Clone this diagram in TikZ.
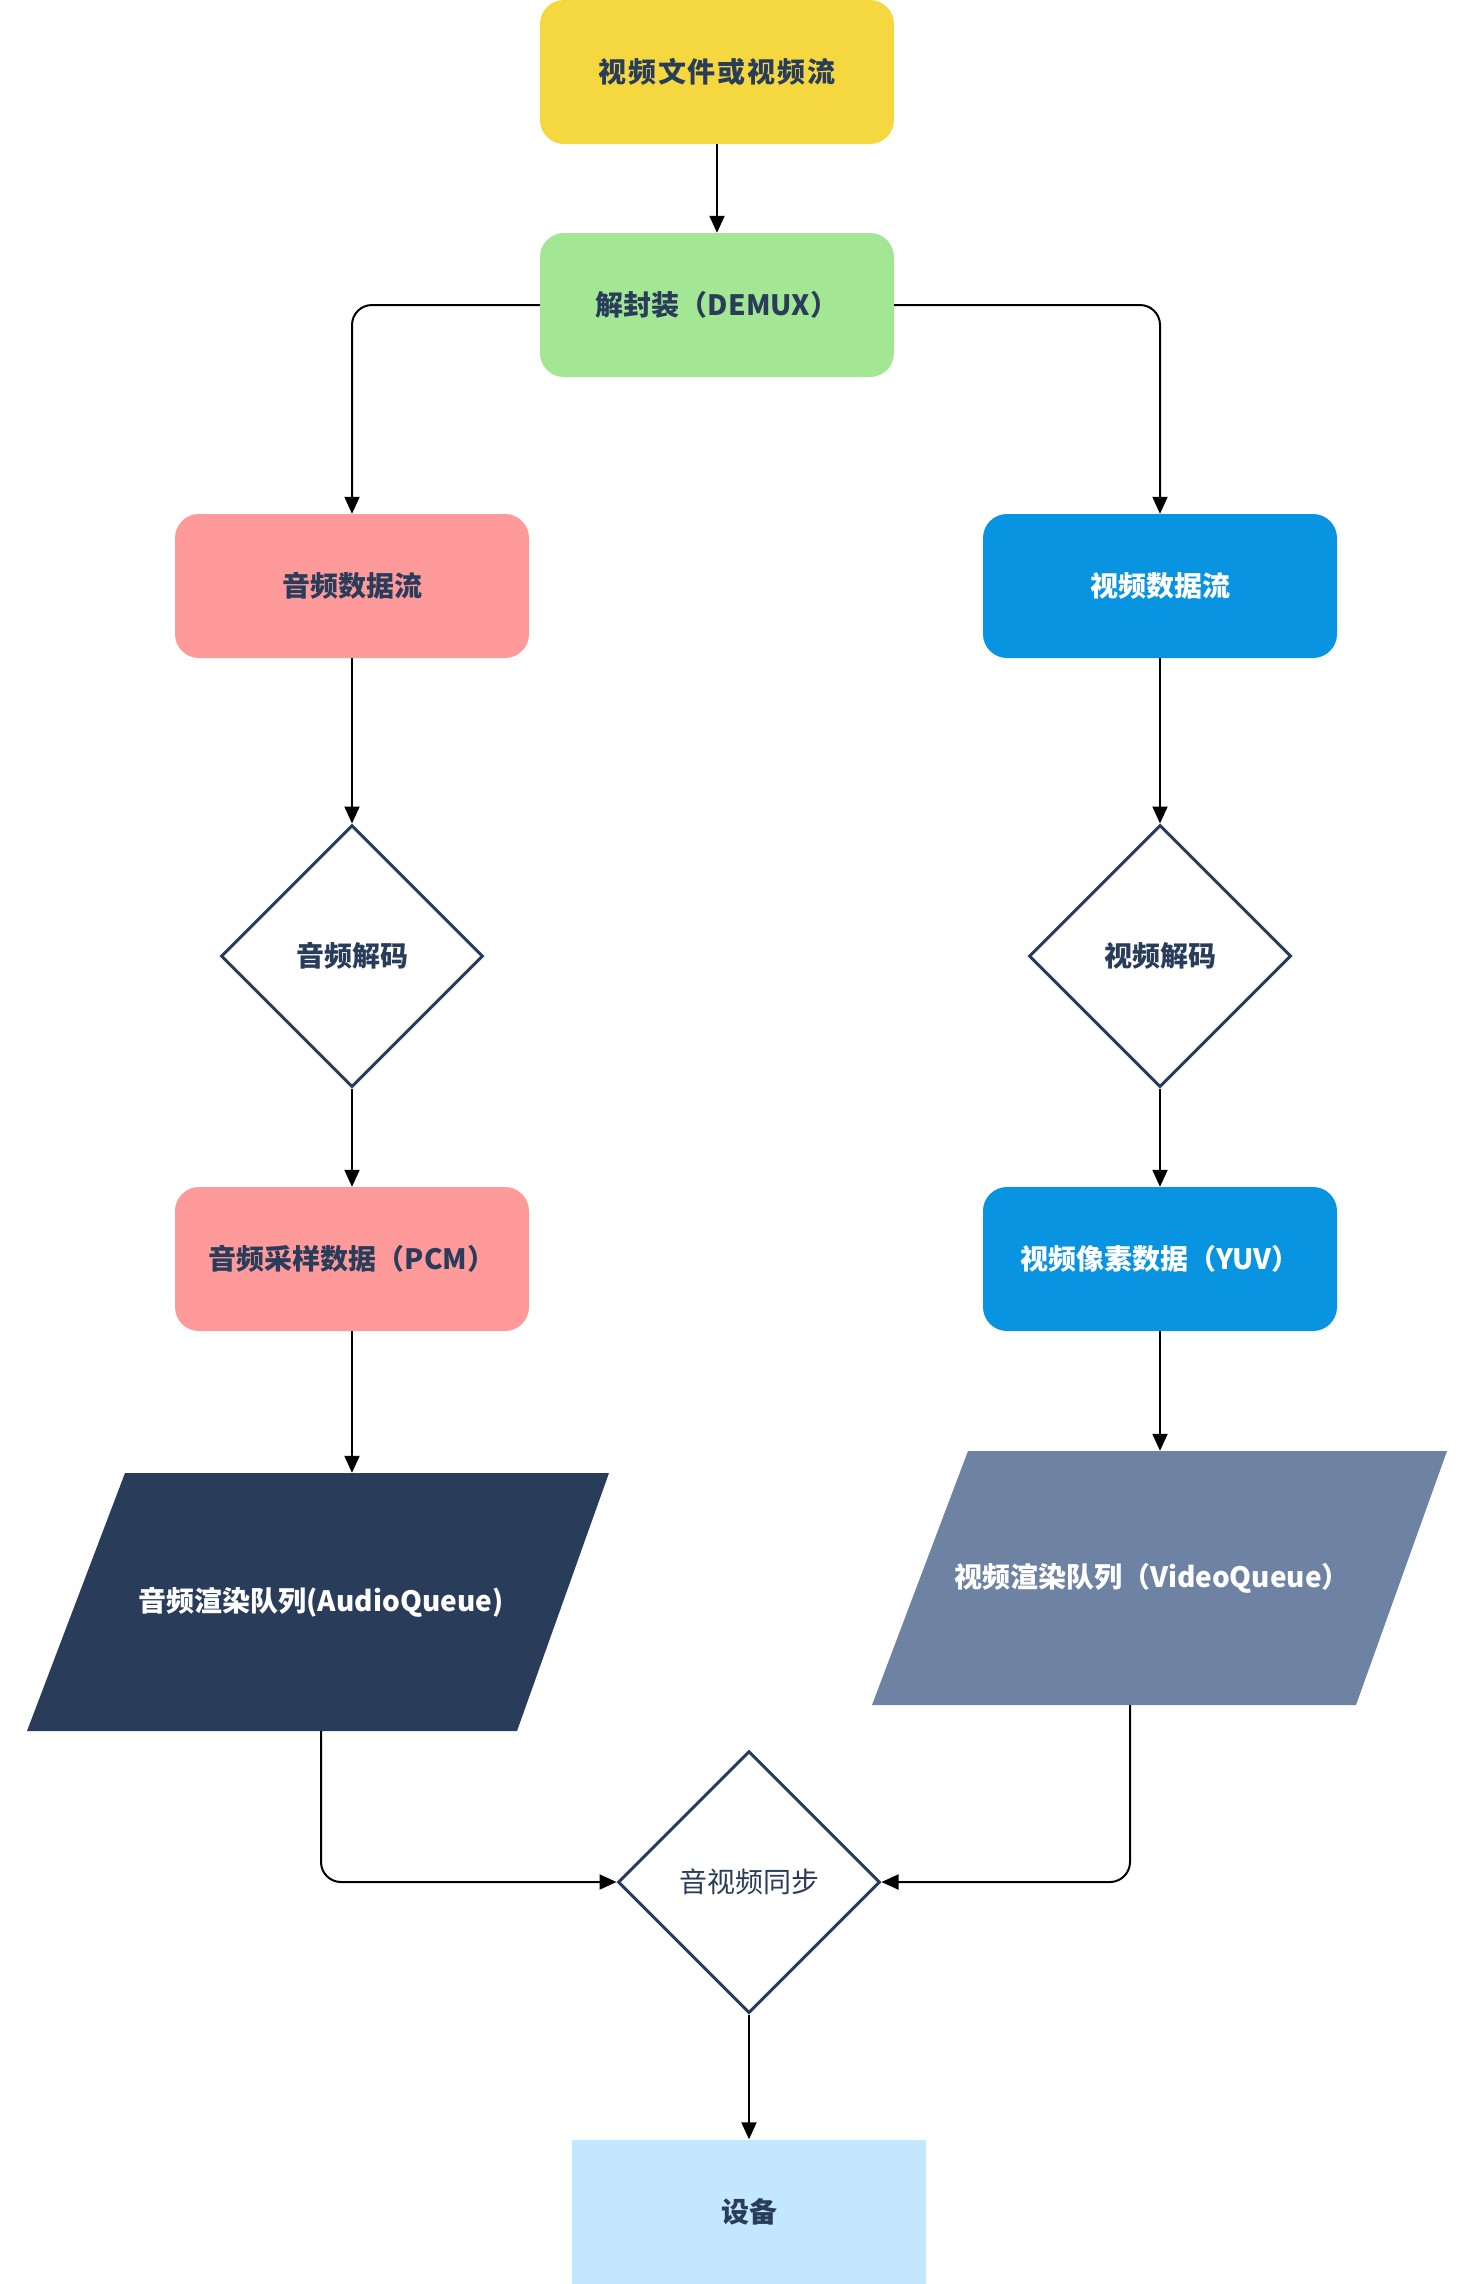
\documentclass[tikz,border=0pt]{standalone}
\usepackage{fontspec}
\setmainfont{Noto Sans CJK SC}
\usetikzlibrary{arrows.meta,shapes.geometric}
\definecolor{cyellow}{HTML}{F5D83F}
\definecolor{cgreen}{HTML}{A3E794}
\definecolor{cpink}{HTML}{FE9A9A}
\definecolor{cblue}{HTML}{0994E2}
\definecolor{cnavy}{HTML}{293D5B}
\definecolor{cslate}{HTML}{6E83A3}
\definecolor{clight}{HTML}{C3E8FD}
\definecolor{ctext}{HTML}{293D5B}
\begin{document}
\begin{tikzpicture}[x=1pt,y=-1pt,
  lbl/.style={font=\fontsize{28}{34}\selectfont\bfseries},
  box/.style={lbl, rounded corners=24pt, minimum width=354pt, minimum height=144pt, inner sep=0pt, text=ctext},
  dia/.style={lbl, diamond, draw=ctext, line width=3pt, minimum width=262pt, minimum height=262pt, aspect=1, inner sep=0pt, text=ctext},
  para/.style={lbl, minimum width=470pt, inner sep=0pt, text=white},
  conn/.style={line width=2pt, -{Triangle[length=17pt,width=15pt]}, rounded corners=20pt},
  ]
\useasboundingbox (0,0) rectangle (1478,2284);
\fill[white] (0,0) rectangle (1478,2284);

\node[box, fill=cyellow] (src) at (717,72) {\addfontfeature{LetterSpace=7}视频文件或视频流};
\node[box, fill=cgreen] (demux) at (717,305) {解封装（DEMUX）};
\node[box, fill=cpink] (astream) at (352,586) {音频数据流};
\node[box, fill=cblue, text=white] (vstream) at (1160,586) {视频数据流};
\node[dia] (adec) at (352,956) {音频解码};
\node[dia] (vdec) at (1160,956) {视频解码};
\node[box, fill=cpink] (pcm) at (352,1259) {音频采样数据（PCM）};
\node[box, fill=cblue, text=white] (yuv) at (1160,1259) {视频像素数据（YUV）};

\fill[cnavy] (125,1473) -- (609,1473) -- (517,1731) -- (27,1731) -- cycle;
\node[para, minimum height=258pt] (aq) at (321,1602) {音频渲染队列(AudioQueue)};
\fill[cslate] (968,1451) -- (1447,1451) -- (1356,1705) -- (872,1705) -- cycle;
\node[para, minimum height=254pt] (vq) at (1152,1578) {视频渲染队列（VideoQueue）};

\node[dia, font=\fontsize{28}{34}\selectfont\mdseries] (sync) at (749,1882) {音视频同步};
\node[lbl, fill=clight, minimum width=354pt, minimum height=145pt, inner sep=0pt, text=ctext] (dev) at (749,2212) {设备};

\draw[conn] (src) -- (demux);
\draw[conn] (demux.west) -| (astream.north);
\draw[conn] (demux.east) -| (vstream.north);
\draw[conn] (astream) -- (adec);
\draw[conn] (vstream) -- (vdec);
\draw[conn] (adec) -- (pcm);
\draw[conn] (vdec) -- (yuv);
\draw[conn] (pcm) -- (pcm.south |- aq.north);
\draw[conn] (yuv) -- (yuv.south |- vq.north);
\draw[conn] (aq.south) |- (sync.west);
\draw[conn] ([xshift=-22pt]vq.south) |- (sync.east);
\draw[conn] (sync) -- (dev);
\end{tikzpicture}
\end{document}
